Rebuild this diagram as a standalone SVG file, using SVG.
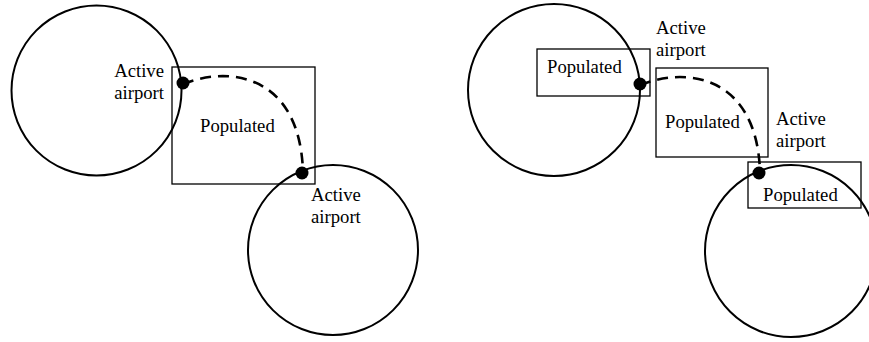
<svg xmlns="http://www.w3.org/2000/svg" width="869" height="342" viewBox="0 0 869 342">
<style>
.c{fill:none;stroke:#000;stroke-width:2}
.r{fill:none;stroke:#000;stroke-width:1.3}
.d{fill:none;stroke:#000;stroke-width:2.6;stroke-dasharray:11,7}
.p{fill:#000}
.e{text-anchor:end}
</style>
<rect width="869" height="342" fill="#fff"/>
<g font-family="'Liberation Serif', 'Times New Roman', Times, 'DejaVu Serif', serif" font-size="18.7" fill="#000">
<g id="left-panel">
<g id="circle1"><circle class="c" cx="96.5" cy="90.5" r="85"/></g>
<g id="circle2"><circle class="c" cx="333" cy="250" r="85"/></g>
<g id="populated1"><rect class="r" x="172" y="67" width="143" height="117"/><text x="200" y="132">Populated</text></g>
<g id="connectors-left"><path class="d" d="M183,84 C230,65 300,75 303,172"/></g>
<g id="airport1"><circle class="p" cx="183" cy="83" r="6.5"/><text class="e" x="164" y="77">Active</text><text class="e" x="164" y="99">airport</text></g>
<g id="airport2"><circle class="p" cx="302" cy="173" r="6.5"/><text x="311" y="201">Active</text><text x="311" y="223">airport</text></g>
</g>
<g id="right-panel">
<g id="circle3"><circle class="c" cx="554" cy="90" r="86"/></g>
<g id="circle4"><circle class="c" cx="791" cy="251" r="86"/></g>
<g id="populated2"><rect class="r" x="537" y="49" width="113" height="47"/><text x="547" y="73">Populated</text></g>
<g id="populated3"><rect class="r" x="656" y="68" width="112" height="89"/><text x="665" y="128">Populated</text></g>
<g id="populated4"><rect class="r" x="748" y="162" width="113" height="46"/><text x="763" y="201">Populated</text></g>
<g id="connectors-right"><path class="d" d="M640,85 C687,66 757,76 760,172"/></g>
<g id="airport3"><circle class="p" cx="640" cy="84" r="6.5"/><text x="656" y="34">Active</text><text x="656" y="56">airport</text></g>
<g id="airport4"><circle class="p" cx="759" cy="173" r="6.5"/><text x="776" y="125">Active</text><text x="776" y="147">airport</text></g>
</g>
</g>
</svg>
